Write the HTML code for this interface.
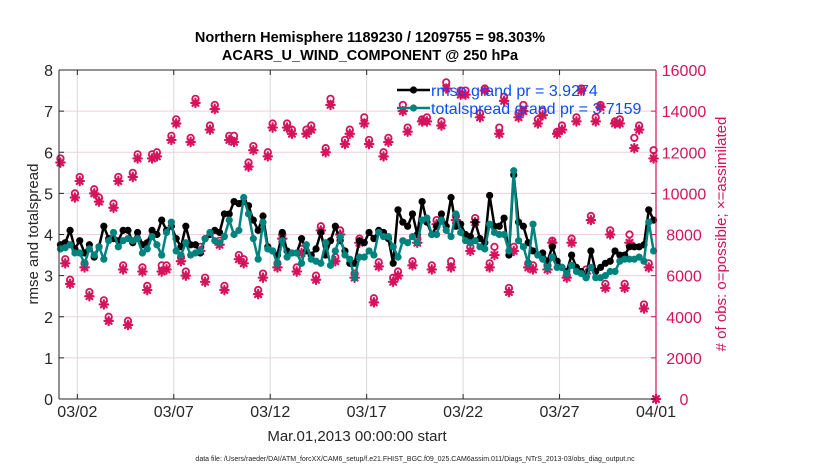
<!DOCTYPE html>
<html><head><meta charset="utf-8"><style>
body{margin:0;background:#fff;}
svg{display:block;font-family:"Liberation Sans",Arial,sans-serif;}
</style></head><body>
<svg id="chart" width="830" height="470" viewBox="0 0 830 470">
<g id="grid"></g>
<g id="obs"></g>
<g id="lines"></g>
<g id="axes"></g>
<g id="legend"></g>
<text x="370" y="42" text-anchor="middle" font-size="14.5" font-weight="bold">Northern Hemisphere 1189230 / 1209755 = 98.303%</text>
<text x="370" y="60" text-anchor="middle" font-size="14.5" font-weight="bold">ACARS_U_WIND_COMPONENT @ 250 hPa</text>
<text x="357" y="441" text-anchor="middle" font-size="15" fill="#262626">Mar.01,2013 00:00:00 start</text>
<text transform="translate(38,234) rotate(-90)" text-anchor="middle" font-size="15" fill="#262626">rmse and totalspread</text>
<text transform="translate(726,234) rotate(-90)" text-anchor="middle" font-size="15" fill="#d0125a"># of obs: o=possible; ×=assimilated</text>
<text x="415" y="461" text-anchor="middle" font-size="7" fill="#222">data file: /Users/raeder/DAI/ATM_forcXX/CAM6_setup/f.e21.FHIST_BGC.f09_025.CAM6assim.011/Diags_NTrS_2013-03/obs_diag_output.nc</text>
</svg>
<script>
const dateLabels = ["03/02","03/07","03/12","03/17","03/22","03/27","04/01"];
const dateDays = [1,6,11,16,21,26,31];
const leftTicks = [0,1,2,3,4,5,6,7,8];
const rightTicks = [0,2000,4000,6000,8000,10000,12000,14000,16000];
const rmse = [3.75,3.8,4.1,3.65,3.85,3.55,3.75,3.45,3.7,4.2,3.9,3.9,3.85,4.1,4.1,3.8,4.05,3.75,3.8,4.1,4.0,4.35,4.1,4.2,3.9,3.7,4.2,3.75,3.75,3.55,3.9,4.0,4.1,4.05,4.5,4.5,4.8,4.75,4.8,4.7,4.35,4.1,4.45,3.7,3.6,3.5,4.05,3.6,3.55,3.55,3.9,3.6,3.5,3.65,4.05,3.5,3.85,4.2,3.85,3.6,3.3,3.3,3.85,3.8,4.05,
3.9,4.1,4.05,3.9,3.3,4.6,4.3,4.2,4.5,4.0,4.8,4.3,4.0,4.2,4.5,4.2,4.9,4.2,4.25,4.0,3.95,4.3,3.9,3.8,4.95,4.2,4.2,4.4,3.5,5.45,4.3,4.2,3.8,3.6,3.5,3.55,3.35,3.7,3.35,3.2,3.1,3.5,3.2,3.1,2.95,3.6,3.1,3.2,3.3,3.35,3.6,3.5,3.5,3.7,3.7,3.7,3.75,4.6,4.35];
const spread = [3.65,3.68,3.75,3.55,3.55,3.3,3.65,3.5,3.7,3.4,3.85,4.05,3.7,3.85,3.9,3.85,3.9,3.55,3.65,3.95,3.75,3.5,4.05,4.3,3.6,3.5,3.8,3.5,3.55,3.6,3.9,4.05,3.85,3.8,3.95,4.35,4.0,4.1,4.9,4.5,3.9,3.4,4.3,3.65,3.6,3.3,3.85,3.45,3.55,3.55,3.3,3.75,3.4,3.35,3.3,3.8,3.25,3.6,3.95,3.5,3.4,2.95,3.45,3.45,3.6,
3.5,4.05,3.95,3.95,3.7,3.45,3.85,3.8,3.95,3.8,4.35,4.4,4.0,4.0,4.35,4.1,3.95,4.5,4.05,3.85,3.8,3.85,3.7,3.65,4.25,4.05,4.0,4.0,3.6,5.55,3.85,3.7,3.3,4.25,3.5,3.4,3.2,3.45,3.2,3.2,3.05,3.25,3.1,3.05,2.95,3.2,2.95,2.95,3.0,3.1,3.1,3.35,3.4,3.4,3.4,3.45,3.35,4.3,3.6];
const nAssim = [11.5,6.6,5.6,9.8,10.6,6.4,5.0,10.0,9.6,4.6,3.8,9.3,10.6,6.3,3.6,10.8,11.7,6.2,5.3,11.7,11.8,6.2,6.3,12.6,13.4,6.7,6.0,12.5,14.4,7.2,5.7,13.1,14.1,7.5,5.3,12.6,12.5,6.8,6.6,11.3,12.1,5.1,5.9,11.8,13.2,6.4,7.8,13.2,12.9,6.2,7.1,12.9,13.1,5.8,8.2,12.0,14.3,6.7,8.0,12.4,12.9,5.9,7.6,13.4,12.4,
4.7,6.45,11.8,12.5,5.7,6.0,14.0,13.0,6.5,7.6,13.5,13.5,6.3,8.5,13.3,15.1,6.4,8.7,14.8,14.8,7.2,8.6,13.7,15.0,6.4,7.0,12.9,14.5,5.2,7.2,13.7,14.0,6.4,6.3,13.4,13.8,6.3,7.6,12.9,13.1,5.9,7.6,13.5,15.0,6.1,8.7,13.5,14.2,5.4,8.0,13.4,13.4,5.4,7.6,12.2,13.1,4.4,6.4,11.7];
const nPoss = [11.7,6.8,5.8,10.0,10.8,6.6,5.2,10.2,9.8,4.8,4.0,9.5,10.8,6.5,3.8,11.0,11.9,6.4,5.5,11.9,12.0,6.5,6.5,12.8,13.6,6.9,6.2,12.7,14.6,7.4,5.9,13.3,14.3,7.7,5.5,12.8,12.8,7.0,6.8,11.5,12.3,5.3,6.1,12.0,13.4,6.6,8.0,13.4,13.1,6.4,7.3,13.1,13.3,6.0,8.4,12.2,14.6,6.9,8.2,12.6,13.1,6.1,7.8,13.7,12.6,
4.9,6.65,12.0,12.7,5.9,6.2,14.3,13.2,6.7,7.8,13.6,13.7,6.5,8.7,13.5,15.4,6.7,8.9,15.0,15.0,7.4,8.8,13.9,15.1,6.6,7.4,13.2,14.7,5.4,7.4,13.9,14.3,6.6,6.5,13.6,14.0,6.5,7.7,13.0,13.3,6.0,7.8,13.7,15.1,6.3,8.9,13.7,14.3,5.6,8.2,13.5,13.6,5.6,8.0,12.7,13.3,4.6,6.6,12.1];
const endObsDay = [31];
const endObsVal = [0];
const legendLabels = ["rmse grand pr = 3.9274","totalspread grand pr = 3.7159"];

const NS="http://www.w3.org/2000/svg";
const X0=59,X1=656,Y0=399,Y1=70,D0=0.05,D1=31;
const xS=d=>X0+(d-D0)/(D1-D0)*(X1-X0);
const yL=v=>Y0-v/8*(Y0-Y1);
const yR=v=>Y0-v/16000*(Y0-Y1);
const tOf=i=>0.125+0.25*i;
const MAG="#d5135c",TEAL="#00837e";
function mk(tag,attrs,parent){const e=document.createElementNS(NS,tag);for(const k in attrs)e.setAttribute(k,attrs[k]);parent.appendChild(e);return e;}
const grid=document.getElementById('grid'),axes=document.getElementById('axes'),obs=document.getElementById('obs'),lines=document.getElementById('lines'),legend=document.getElementById('legend');

rightTicks.forEach((v,i)=>{
  if(v>0&&v<16000){const g=mk('line',{x1:X0,x2:X1,y1:yR(v),y2:yR(v),stroke:"#f2cfdc","stroke-width":1},grid);
  
  }
  const t=mk('text',{x:684,y:yR(v)+6,"text-anchor":"middle","font-size":16,fill:MAG},axes);
  t.textContent=v;
  
  
  mk('line',{x1:X1-5,x2:X1,y1:yR(v),y2:yR(v),stroke:MAG},axes);
});
dateDays.forEach((d,i)=>{
  const x=xS(d);
  if(d<31){const g=mk('line',{x1:x,x2:x,y1:Y1,y2:Y0,stroke:"#d9d9d9","stroke-width":1},grid);
  
  }
  const t=mk('text',{x:x,y:417,"text-anchor":"middle","font-size":16,fill:"#262626"},axes);
  t.textContent=dateLabels[i];
  
  
  mk('line',{x1:x,x2:x,y1:Y0,y2:Y0-5,stroke:"#262626"},axes);
  mk('line',{x1:x,x2:x,y1:Y1,y2:Y1+5,stroke:"#262626"},axes);
});
leftTicks.forEach(v=>{
  const t=mk('text',{x:X0-6,y:yL(v)+6,"text-anchor":"end","font-size":16,fill:"#262626"},axes);
  t.textContent=v;
  
  
  mk('line',{x1:X0,x2:X0+5,y1:yL(v),y2:yL(v),stroke:"#262626"},axes);
});
mk('line',{x1:X0,x2:X1,y1:Y1,y2:Y1,stroke:"#262626"},axes);
mk('line',{x1:X0,x2:X1,y1:Y0,y2:Y0,stroke:"#262626"},axes);
mk('line',{x1:X0,x2:X0,y1:Y1,y2:Y0,stroke:"#262626"},axes);
mk('line',{x1:X1,x2:X1,y1:Y1,y2:Y0,stroke:MAG,"stroke-width":1.2},axes);

function star(x,y,p,name){
  const g=mk('g',{stroke:MAG,"stroke-width":2.2,"stroke-linecap":"round"},p);
  
  
  const r=4.2;
  mk('circle',{cx:x,cy:y,r:2.2,fill:MAG,stroke:"none"},g);
  mk('line',{x1:x-r,x2:x+r,y1:y,y2:y},g);
  mk('line',{x1:x,x2:x,y1:y-r,y2:y+r},g);
  mk('line',{x1:x-r*0.7,x2:x+r*0.7,y1:y-r*0.7,y2:y+r*0.7},g);
  mk('line',{x1:x-r*0.7,x2:x+r*0.7,y1:y+r*0.7,y2:y-r*0.7},g);
}
nPoss.forEach((v,i)=>{
  const c=mk('circle',{cx:xS(tOf(i)),cy:yR(v*1000),r:3.2,fill:"#fff",stroke:MAG,"stroke-width":1.8},obs);
  
  
});
nAssim.forEach((v,i)=>star(xS(tOf(i)),yR(v*1000),obs,'obs-assimilated-point'));
endObsDay.forEach((d,i)=>star(xS(d),yR(endObsVal[i]),obs,'obs-assimilated-point'));

function series(vals,color,name){
  const pts=vals.map((v,i)=>xS(tOf(i)).toFixed(1)+","+yL(v).toFixed(1)).join(" ");
  const pl=mk('polyline',{points:pts,fill:"none",stroke:color,"stroke-width":2.5,"stroke-linejoin":"round"},lines);
  
  
  vals.forEach((v,i)=>{
    const c=mk('circle',{cx:xS(tOf(i)),cy:yL(v),r:3.6,fill:color},lines);
    
    
  });
}
series(rmse,"#000",'rmse');
series(spread,TEAL,'totalspread');

[["#000",90],[TEAL,108]].forEach((s,i)=>{
  const l=mk('line',{x1:397,x2:430,y1:s[1],y2:s[1],stroke:s[0],"stroke-width":2.5},legend);
  
  
  mk('circle',{cx:413.5,cy:s[1],r:3.6,fill:s[0]},legend);
  const t=mk('text',{x:431,y:s[1]+6,"font-size":16,fill:"#0a4dff"},legend);
  t.textContent=legendLabels[i];
  
  
});
</script>
</body></html>
